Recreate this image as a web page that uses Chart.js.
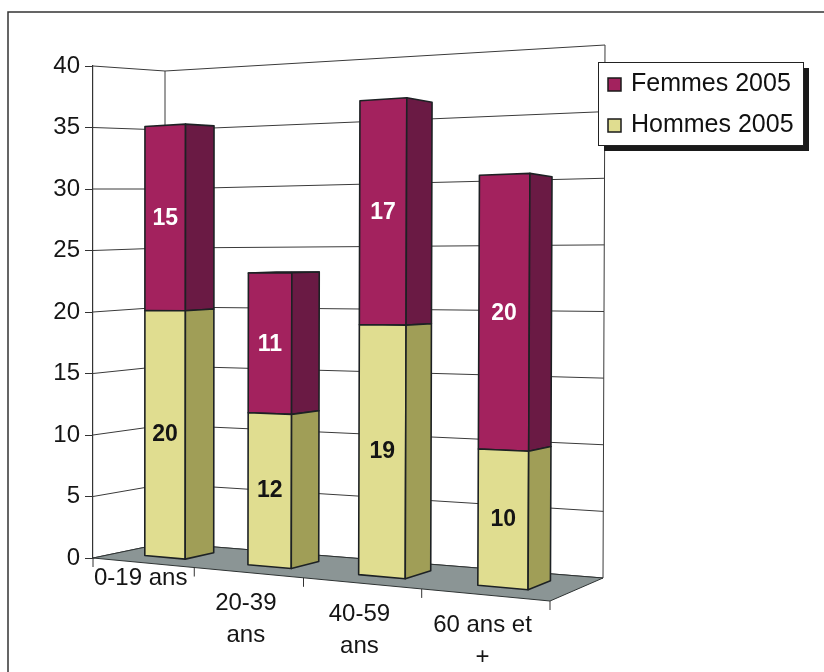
<!DOCTYPE html>
<html lang="fr">
<head>
<meta charset="utf-8">
<title>Population par tranche d'âge, 2005</title>
<script src="https://cdn.jsdelivr.net/npm/chart.js@4.4.1/dist/chart.umd.min.js"></script>
<style>
  html, body { margin: 0; padding: 0; background: #fff; }
  canvas { display: block; }
</style>
</head>
<body>
<canvas id="chart" width="824" height="672"></canvas>
<script>
// ---- data ----
const categories = [['0-19 ans'], ['20-39', 'ans'], ['40-59', 'ans'], ['60 ans et', '+']];
const hommes2005 = [20, 12, 19, 10];
const femmes2005 = [15, 11, 17, 20];
const seriesNames = ['Hommes 2005', 'Femmes 2005'];
const yMin = 0, yMax = 40, yStep = 5;

const FONT = "'Liberation Sans', Arial, Helvetica, sans-serif";

// ---- 3D view: the flat plot area is the front-left face of a box; the other
// corners are offsets from the plot area edges, each with a relative eye depth ----
const VIEW = {
  barDepth: [0.3, 0.7],
  corners: {
    frontLeft:  { base: [0, 0],    top: [0, 0],     depth: 1.000 },
    frontRight: { base: [-53, 43], top: [-50, -41], depth: 0.854 },
    backLeft:   { base: [72, -15], top: [72, 5],    depth: 1.042 },
    backRight:  { base: [0, 20],   top: [2, -21],   depth: 0.925 }
  }
};

function toU(ca, px) { return (px - ca.left) / (ca.right - ca.left); }
function toV(ca, py) { return (ca.bottom - py) / (ca.bottom - ca.top); }

// perspective-weighted interpolation between the box corners
function project(ca, u, v, z) {
  const k = VIEW.corners;
  const spots = [
    [k.frontLeft, ca.left, (1 - u) * (1 - z)],
    [k.frontRight, ca.right, u * (1 - z)],
    [k.backLeft, ca.left, (1 - u) * z],
    [k.backRight, ca.right, u * z]
  ];
  let sx = 0, sy = 0, sw = 0;
  for (const [c, ax, b] of spots) {
    const w = b * c.depth;
    const bx = ax + c.base[0], by = ca.bottom + c.base[1];
    const tx = ax + c.top[0], ty = ca.top + c.top[1];
    sx += w * (bx + (tx - bx) * v);
    sy += w * (by + (ty - by) * v);
    sw += w;
  }
  return [sx / sw, sy / sw];
}

function face(ctx, pts, fill, stroke) {
  ctx.beginPath();
  ctx.moveTo(pts[0][0], pts[0][1]);
  for (let i = 1; i < pts.length; i++) ctx.lineTo(pts[i][0], pts[i][1]);
  ctx.closePath();
  if (fill) { ctx.fillStyle = fill; ctx.fill(); }
  if (stroke !== false) ctx.stroke();
}

function frontFace(ca, el) {
  const { x, y, base, width } = el.getProps(['x', 'y', 'base', 'width'], true);
  const [z0] = VIEW.barDepth;
  const u0 = toU(ca, x - width / 2), u1 = toU(ca, x + width / 2);
  const v0 = toV(ca, base), v1 = toV(ca, y);
  return [project(ca, u0, v0, z0), project(ca, u1, v0, z0), project(ca, u1, v1, z0), project(ca, u0, v1, z0)];
}

// ---- column controller drawing each bar as a prism ----
class Column3DController extends Chart.BarController {
  draw() {
    const chart = this.chart, ctx = chart.ctx, ca = chart.chartArea;
    const ds = this.getDataset();
    const [z0, z1] = VIEW.barDepth;
    const metas = chart.getSortedVisibleDatasetMetas();
    ctx.save();
    ctx.lineJoin = 'round';
    ctx.lineWidth = 1.6;
    ctx.strokeStyle = '#1d2124';
    this._cachedMeta.data.forEach((el, i) => {
      const { x, y, base, width } = el.getProps(['x', 'y', 'base', 'width'], true);
      const u0 = toU(ca, x - width / 2), u1 = toU(ca, x + width / 2);
      const v0 = toV(ca, base), v1 = toV(ca, y);
      const P = (u, v, z) => project(ca, u, v, z);
      const front = [P(u0, v0, z0), P(u1, v0, z0), P(u1, v1, z0), P(u0, v1, z0)];
      const side = [P(u1, v0, z0), P(u1, v0, z1), P(u1, v1, z1), P(u1, v1, z0)];
      const top = [P(u0, v1, z0), P(u1, v1, z0), P(u1, v1, z1), P(u0, v1, z1)];
      const onTop = metas.every(m => !m.data[i] || m.data[i].y >= y - 0.5);
      if (onTop && top[2][1] < top[1][1]) face(ctx, top, ds.topColor);
      face(ctx, front, ds.frontColor);
      face(ctx, side, ds.sideColor);
    });
    ctx.restore();
  }
}
Column3DController.id = 'column3d';
Chart.register(Column3DController);

// ---- walls, floor and category axis ----
const boxPlugin = {
  id: 'box3d',
  beforeDatasetsDraw(chart) {
    const ctx = chart.ctx, ca = chart.chartArea, ys = chart.scales.y;
    const P = (u, v, z) => project(ca, u, v, z);
    ctx.save();
    ctx.strokeStyle = '#3a3a3a';
    ctx.lineWidth = 1;
    // grid lines on the left and back walls
    ys.ticks.forEach(t => {
      const v = toV(ca, ys.getPixelForValue(t.value));
      const a = P(0, v, 0), b = P(0, v, 1), c = P(1, v, 1);
      ctx.beginPath();
      ctx.moveTo(a[0], a[1]); ctx.lineTo(b[0], b[1]); ctx.lineTo(c[0], c[1]);
      ctx.stroke();
    });
    // back corners of the walls
    [[0, 1], [1, 1]].forEach(([u, z]) => {
      const a = P(u, 0, z), b = P(u, 1, z);
      ctx.beginPath(); ctx.moveTo(a[0], a[1]); ctx.lineTo(b[0], b[1]); ctx.stroke();
    });
    // floor
    ctx.strokeStyle = '#2e3333';
    face(ctx, [P(0, 0, 0), P(1, 0, 0), P(1, 0, 1), P(0, 0, 1)], '#8b9595');
    // category tick marks along the front edge
    const n = chart.data.labels.length;
    ctx.strokeStyle = '#333';
    for (let i = 0; i <= n; i++) {
      const p = P(i / n, 0, 0);
      ctx.beginPath(); ctx.moveTo(p[0], p[1]); ctx.lineTo(p[0], p[1] + 9); ctx.stroke();
    }
    ctx.restore();
  },
  afterDatasetsDraw(chart) {
    const ctx = chart.ctx, ca = chart.chartArea, xs = chart.scales.x;
    ctx.save();
    ctx.textAlign = 'center';
    ctx.textBaseline = 'middle';
    // values written on the front face of each segment
    ctx.font = 'bold 23px ' + FONT;
    chart.data.datasets.forEach((ds, di) => {
      chart.getDatasetMeta(di).data.forEach((el, i) => {
        const f = frontFace(ca, el);
        const cx = (f[0][0] + f[1][0] + f[2][0] + f[3][0]) / 4;
        const cy = (f[0][1] + f[1][1] + f[2][1] + f[3][1]) / 4;
        ctx.fillStyle = ds.valueColor;
        ctx.fillText(String(ds.data[i]), cx, cy + 1);
      });
    });
    // category labels under the front edge of the floor
    ctx.font = '24px ' + FONT;
    ctx.fillStyle = '#151515';
    chart.data.labels.forEach((lab, i) => {
      const lines = Array.isArray(lab) ? lab : [lab];
      const u = toU(ca, xs.getPixelForValue(i));
      const [ex, ey] = project(ca, u, 0, 0);
      const first = ey + (lines.length > 1 ? 31 : 16);
      lines.forEach((t, j) => ctx.fillText(t, ex - 2, first + j * 32));
    });
    ctx.restore();
  },
  afterDraw(chart) {
    const ctx = chart.ctx;
    ctx.save();
    // frame
    ctx.strokeStyle = '#333';
    ctx.lineWidth = 1.5;
    ctx.beginPath();
    ctx.moveTo(8, 672); ctx.lineTo(8, 12); ctx.lineTo(824, 12);
    ctx.stroke();
    // legend box with drop shadow
    const box = { x: 598, y: 62, w: 205, h: 83, shadow: 6 };
    ctx.fillStyle = '#1a1a1a';
    ctx.fillRect(box.x + box.shadow, box.y + box.shadow, box.w, box.h);
    ctx.fillStyle = '#fff';
    ctx.fillRect(box.x, box.y, box.w, box.h);
    ctx.strokeStyle = '#222';
    ctx.lineWidth = 1;
    ctx.strokeRect(box.x + 0.5, box.y + 0.5, box.w, box.h);
    ctx.font = '25px ' + FONT;
    ctx.textAlign = 'left';
    ctx.textBaseline = 'middle';
    const items = chart.data.datasets.slice().reverse();
    items.forEach((ds, k) => {
      const cy = box.y + 22 + k * 41;
      ctx.fillStyle = ds.frontColor;
      ctx.fillRect(box.x + 10, cy - 6, 13, 13);
      ctx.strokeStyle = '#1a1a1a';
      ctx.lineWidth = 1.5;
      ctx.strokeRect(box.x + 10, cy - 6, 13, 13);
      ctx.fillStyle = '#111';
      ctx.fillText(ds.label, box.x + 33, cy);
    });
    ctx.restore();
  }
};

Chart.defaults.font.family = FONT;

new Chart(document.getElementById('chart'), {
  type: 'bar',
  data: {
    labels: categories,
    datasets: [
      {
        type: 'column3d',
        label: seriesNames[0],
        data: hommes2005,
        backgroundColor: '#e0dd90',
        frontColor: '#e0dd90',
        sideColor: '#a09e57',
        topColor: '#ebe9ad',
        valueColor: '#141414',
        barPercentage: 0.4,
        categoryPercentage: 1,
        clip: false
      },
      {
        type: 'column3d',
        label: seriesNames[1],
        data: femmes2005,
        backgroundColor: '#a3225e',
        frontColor: '#a3225e',
        sideColor: '#6a1a44',
        topColor: '#c04a80',
        valueColor: '#ffffff',
        barPercentage: 0.4,
        categoryPercentage: 1,
        clip: false
      }
    ]
  },
  options: {
    responsive: false,
    animation: false,
    devicePixelRatio: 1,
    layout: { padding: { left: 0, top: 66, right: 221, bottom: 114 } },
    plugins: { legend: { display: false }, tooltip: { enabled: false } },
    scales: {
      x: { display: false, stacked: true },
      y: {
        stacked: true,
        min: yMin,
        max: yMax,
        ticks: { stepSize: yStep, color: '#151515', font: { size: 24, family: FONT }, padding: 5 },
        grid: { drawOnChartArea: false, drawTicks: true, tickLength: 8, color: '#333' },
        border: { display: true, color: '#333', width: 1.2 },
        afterFit(scale) { scale.width = 93; }
      }
    }
  },
  plugins: [boxPlugin]
});
</script>
</body>
</html>
